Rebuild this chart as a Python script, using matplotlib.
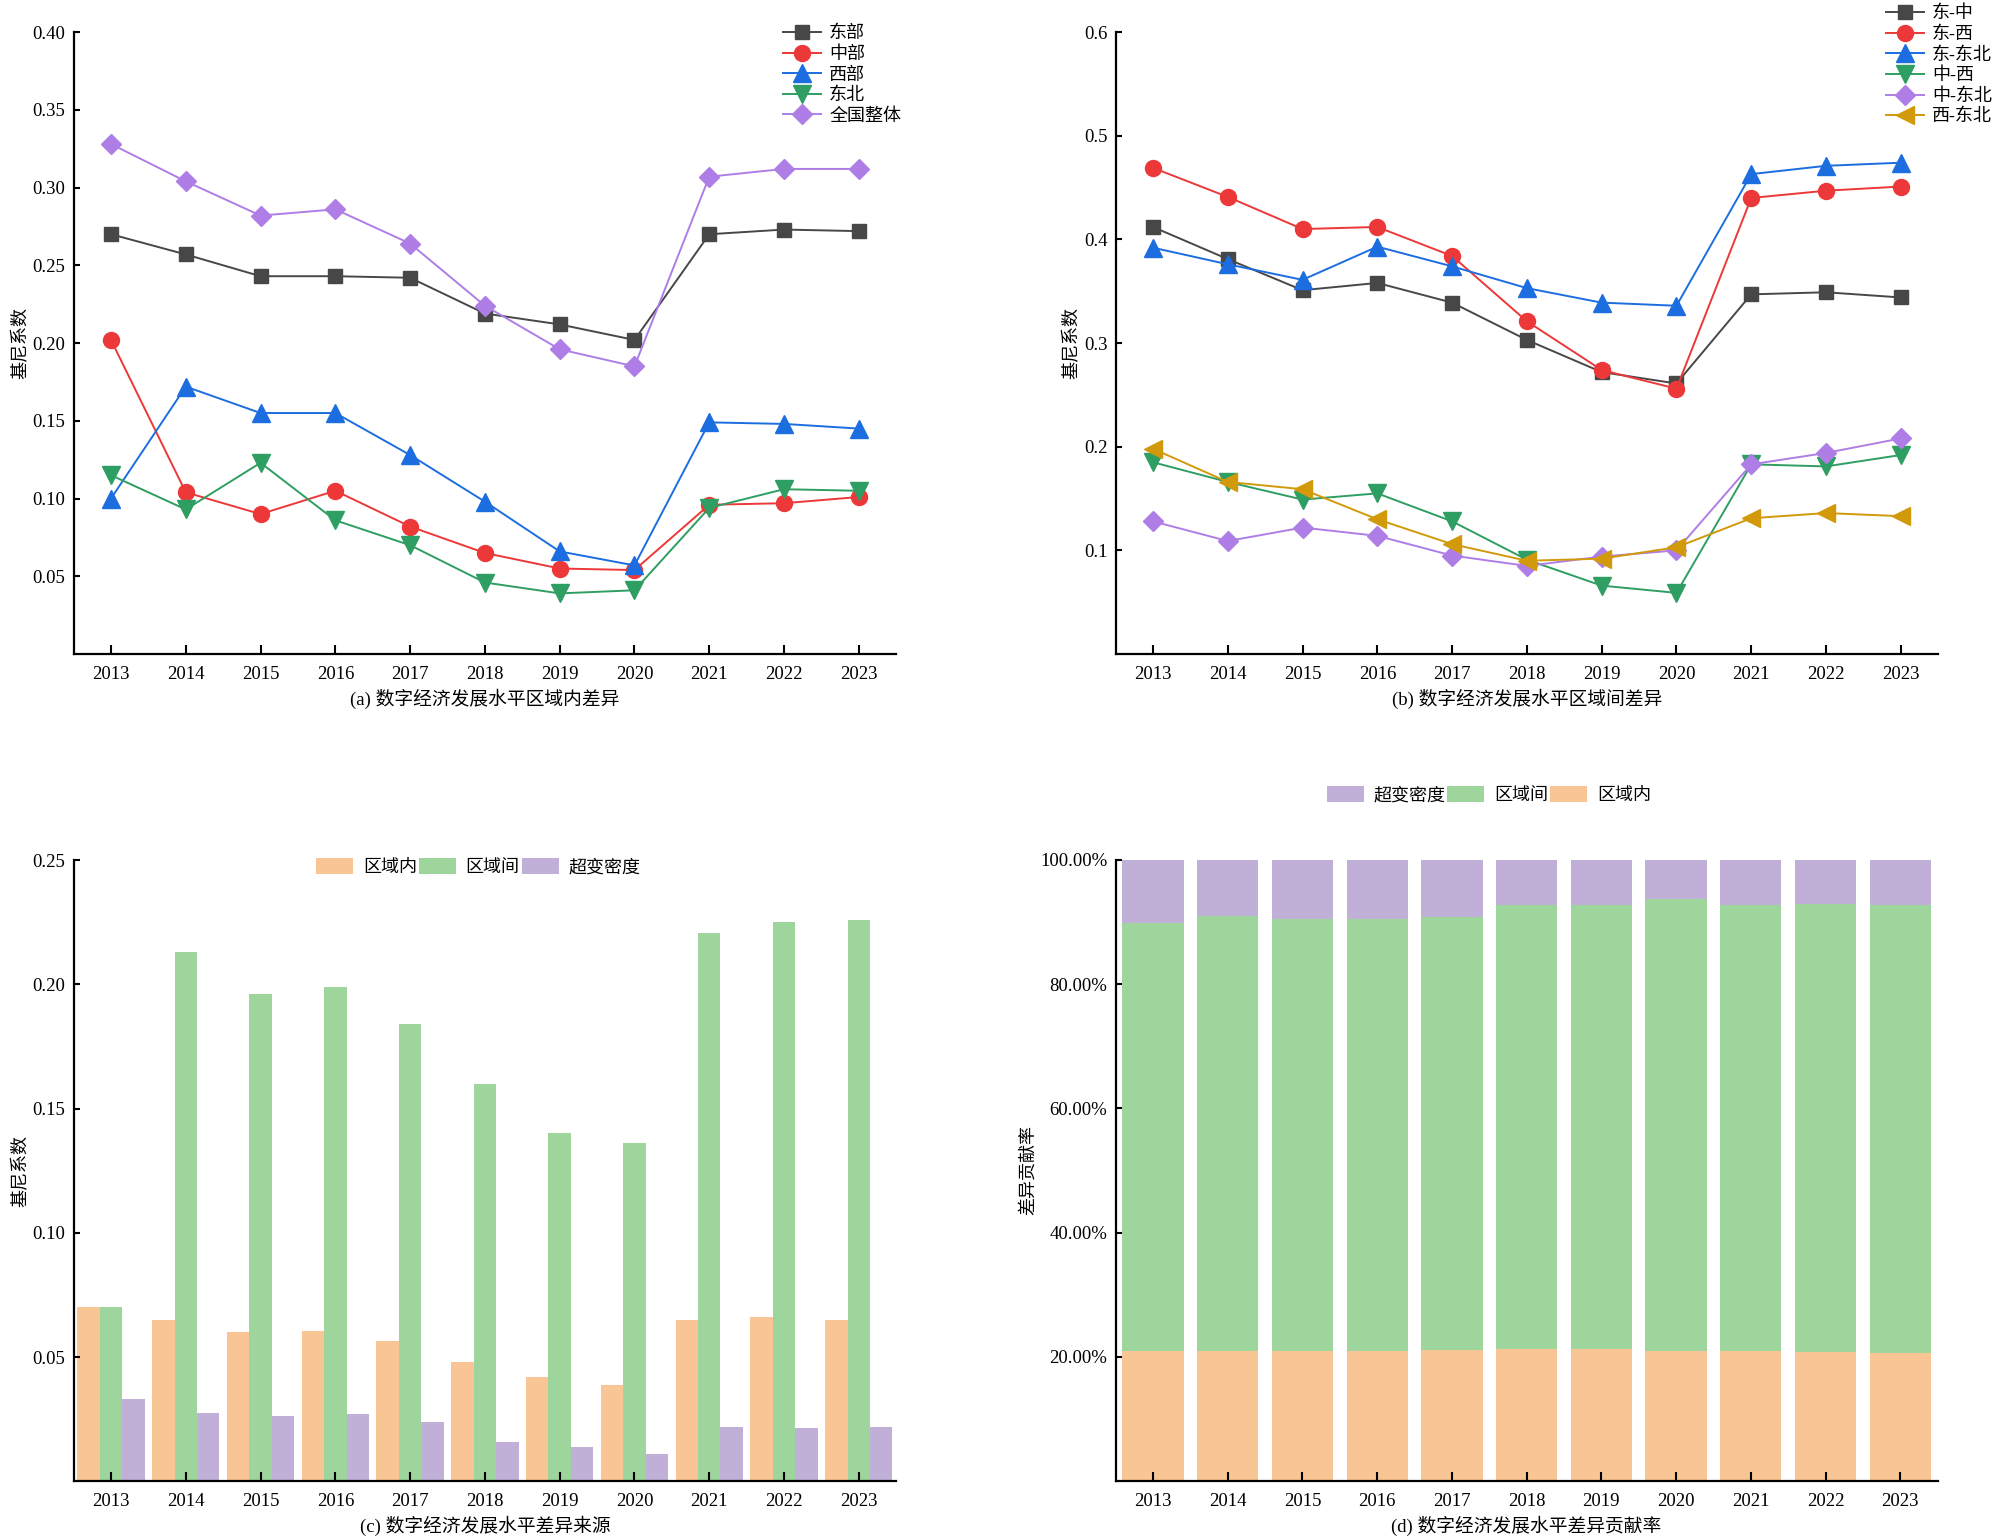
import matplotlib
matplotlib.use('Agg')
import matplotlib.pyplot as plt
from matplotlib.ticker import PercentFormatter, FormatStrFormatter
import numpy as np

plt.rcParams['font.family'] = ['Liberation Serif', 'Noto Sans CJK SC']
plt.rcParams['axes.unicode_minus'] = False
plt.rcParams['font.size'] = 13

years = ['2013', '2014', '2015', '2016', '2017', '2018', '2019', '2020', '2021', '2022', '2023']

# (a) within-region Gini
east = [0.270, 0.257, 0.243, 0.243, 0.242, 0.219, 0.212, 0.202, 0.270, 0.273, 0.272]
central = [0.202, 0.104, 0.090, 0.105, 0.082, 0.065, 0.055, 0.054, 0.096, 0.097, 0.101]
west = [0.100, 0.172, 0.155, 0.155, 0.128, 0.098, 0.066, 0.057, 0.149, 0.148, 0.145]
northeast = [0.115, 0.093, 0.123, 0.086, 0.070, 0.046, 0.039, 0.041, 0.094, 0.106, 0.105]
national = [0.328, 0.304, 0.282, 0.286, 0.264, 0.224, 0.196, 0.185, 0.307, 0.312, 0.312]

# (b) between-region Gini
e_c = [0.412, 0.381, 0.351, 0.358, 0.339, 0.303, 0.272, 0.261, 0.347, 0.349, 0.344]
e_w = [0.469, 0.441, 0.410, 0.412, 0.384, 0.321, 0.274, 0.256, 0.440, 0.447, 0.451]
e_ne = [0.392, 0.376, 0.361, 0.393, 0.374, 0.353, 0.339, 0.336, 0.463, 0.471, 0.474]
c_w = [0.185, 0.166, 0.149, 0.155, 0.128, 0.091, 0.066, 0.059, 0.183, 0.181, 0.192]
c_ne = [0.128, 0.109, 0.122, 0.114, 0.095, 0.085, 0.094, 0.100, 0.183, 0.194, 0.208]
w_ne = [0.198, 0.166, 0.159, 0.130, 0.106, 0.090, 0.092, 0.103, 0.131, 0.136, 0.133]

# (c) sources
within = [0.070, 0.065, 0.060, 0.0605, 0.0565, 0.048, 0.042, 0.039, 0.065, 0.066, 0.065]
between = [0.070, 0.213, 0.196, 0.199, 0.184, 0.160, 0.140, 0.136, 0.2205, 0.225, 0.226]
hyper = [0.033, 0.0275, 0.0265, 0.027, 0.024, 0.016, 0.014, 0.011, 0.022, 0.0215, 0.022]

# (d) contribution shares
within_share = [0.210, 0.209, 0.210, 0.209, 0.2115, 0.212, 0.213, 0.209, 0.209, 0.208, 0.206]
between_share = [0.688, 0.700, 0.695, 0.695, 0.696, 0.716, 0.715, 0.728, 0.719, 0.721, 0.722]
hyper_share = [0.102, 0.091, 0.095, 0.096, 0.0925, 0.072, 0.072, 0.063, 0.072, 0.071, 0.072]

c_gray = '#474747'
c_red = '#ec3838'
c_blue = '#1c6ee0'
c_green = '#2e9e62'
c_purple = '#ae7ee6'
c_gold = '#d29a0a'
bar_orange = '#f9c594'
bar_green = '#9dd59c'
bar_purple = '#c0b0d8'

fig = plt.figure(figsize=(20, 15.36), dpi=100)
ax_a = fig.add_axes([0.0368, 0.5742, 0.4113, 0.4049])
ax_b = fig.add_axes([0.5578, 0.5742, 0.4113, 0.4049])
ax_c = fig.add_axes([0.0368, 0.0355, 0.4113, 0.4046])
ax_d = fig.add_axes([0.5578, 0.0358, 0.4110, 0.4044])

x = np.arange(len(years))


def style(ax):
    for s in ['top', 'right']:
        ax.spines[s].set_visible(False)
    for s in ['left', 'bottom']:
        ax.spines[s].set_linewidth(1.6)
    ax.tick_params(axis='x', direction='in', length=6.5, width=1.5, pad=8.5, labelsize=13.5)
    ax.tick_params(axis='y', direction='in', length=4, width=1.5, pad=6, labelsize=13.5)
    ax.set_xlim(-0.5, 10.5)
    ax.set_xticks(x)
    ax.set_xticklabels(years)


lw = 1.4
leg_kw = dict(loc='upper left', frameon=False, borderpad=0, borderaxespad=0,
              labelspacing=0.2, handlelength=2.1, handletextpad=0.45)
cap_size = 13.5

# (a)
ax_a.plot(x, east, marker='s', ms=10.5, color=c_gray, lw=lw, label='东部')
ax_a.plot(x, central, marker='o', ms=11.5, color=c_red, lw=lw, label='中部')
ax_a.plot(x, west, marker='^', ms=12.5, color=c_blue, lw=lw, label='西部')
ax_a.plot(x, northeast, marker='v', ms=12.5, color=c_green, lw=lw, label='东北')
ax_a.plot(x, national, marker='D', ms=10, color=c_purple, lw=lw, label='全国整体')
style(ax_a)
ax_a.set_ylim(0, 0.40)
ax_a.set_yticks([0.05, 0.10, 0.15, 0.20, 0.25, 0.30, 0.35, 0.40])
ax_a.yaxis.set_major_formatter(FormatStrFormatter('%.2f'))
ax_a.set_ylabel('基尼系数', labelpad=2)
ax_a.set_xlabel('(a) 数字经济发展水平区域内差异', labelpad=4, fontsize=cap_size)
ax_a.legend(bbox_to_anchor=(0.3915, 0.9835), bbox_transform=fig.transFigure, **leg_kw)

# (b)
ax_b.plot(x, e_c, marker='s', ms=10.5, color=c_gray, lw=lw, label='东-中')
ax_b.plot(x, e_w, marker='o', ms=11.5, color=c_red, lw=lw, label='东-西')
ax_b.plot(x, e_ne, marker='^', ms=12.5, color=c_blue, lw=lw, label='东-东北')
ax_b.plot(x, c_w, marker='v', ms=12.5, color=c_green, lw=lw, label='中-西')
ax_b.plot(x, c_ne, marker='D', ms=10, color=c_purple, lw=lw, label='中-东北')
ax_b.plot(x, w_ne, marker='<', ms=12.5, color=c_gold, lw=lw, label='西-东北')
style(ax_b)
ax_b.set_ylim(0, 0.6)
ax_b.set_yticks([0.1, 0.2, 0.3, 0.4, 0.5, 0.6])
ax_b.yaxis.set_major_formatter(FormatStrFormatter('%.1f'))
ax_b.set_ylabel('基尼系数', labelpad=2)
ax_b.set_xlabel('(b) 数字经济发展水平区域间差异', labelpad=4, fontsize=cap_size)
ax_b.legend(bbox_to_anchor=(0.943, 0.9965), bbox_transform=fig.transFigure, **leg_kw)

# (c)
bw = 0.3
ax_c.bar(x - bw, within, width=bw, color=bar_orange, label='区域内')
ax_c.bar(x, between, width=bw, color=bar_green, label='区域间')
ax_c.bar(x + bw, hyper, width=bw, color=bar_purple, label='超变密度')
style(ax_c)
ax_c.set_ylim(0, 0.25)
ax_c.set_yticks([0.05, 0.10, 0.15, 0.20, 0.25])
ax_c.yaxis.set_major_formatter(FormatStrFormatter('%.2f'))
ax_c.set_ylabel('基尼系数', labelpad=2)
ax_c.set_xlabel('(c) 数字经济发展水平差异来源', labelpad=4, fontsize=cap_size)
ax_c.legend(loc='center left', bbox_to_anchor=(0.158, 1 - 867 / 1536), bbox_transform=fig.transFigure,
            ncol=3, frameon=False, borderpad=0, borderaxespad=0, columnspacing=0.1,
            handlelength=2.05, handleheight=1.0, handletextpad=0.55)

# (d)
bw2 = 0.82
top2 = np.array(within_share) + np.array(between_share)
ax_d.bar(x, within_share, width=bw2, color=bar_orange, label='区域内')
ax_d.bar(x, between_share, width=bw2, bottom=within_share, color=bar_green, label='区域间')
ax_d.bar(x, hyper_share, width=bw2, bottom=top2, color=bar_purple, label='超变密度')
style(ax_d)
ax_d.set_ylim(0, 1.0)
ax_d.set_yticks([0.2, 0.4, 0.6, 0.8, 1.0])
ax_d.yaxis.set_major_formatter(PercentFormatter(1.0, decimals=2))
ax_d.set_ylabel('差异贡献率', labelpad=2)
ax_d.set_xlabel('(d) 数字经济发展水平差异贡献率', labelpad=4, fontsize=cap_size)
h, l = ax_d.get_legend_handles_labels()
ax_d.legend(h[::-1], l[::-1], loc='center left', bbox_to_anchor=(0.6633, 1 - 795 / 1536),
            bbox_transform=fig.transFigure, ncol=3, frameon=False, borderpad=0, borderaxespad=0,
            columnspacing=0.1, handlelength=2.05, handleheight=1.0, handletextpad=0.55)

fig.savefig('out.png', dpi=100)
